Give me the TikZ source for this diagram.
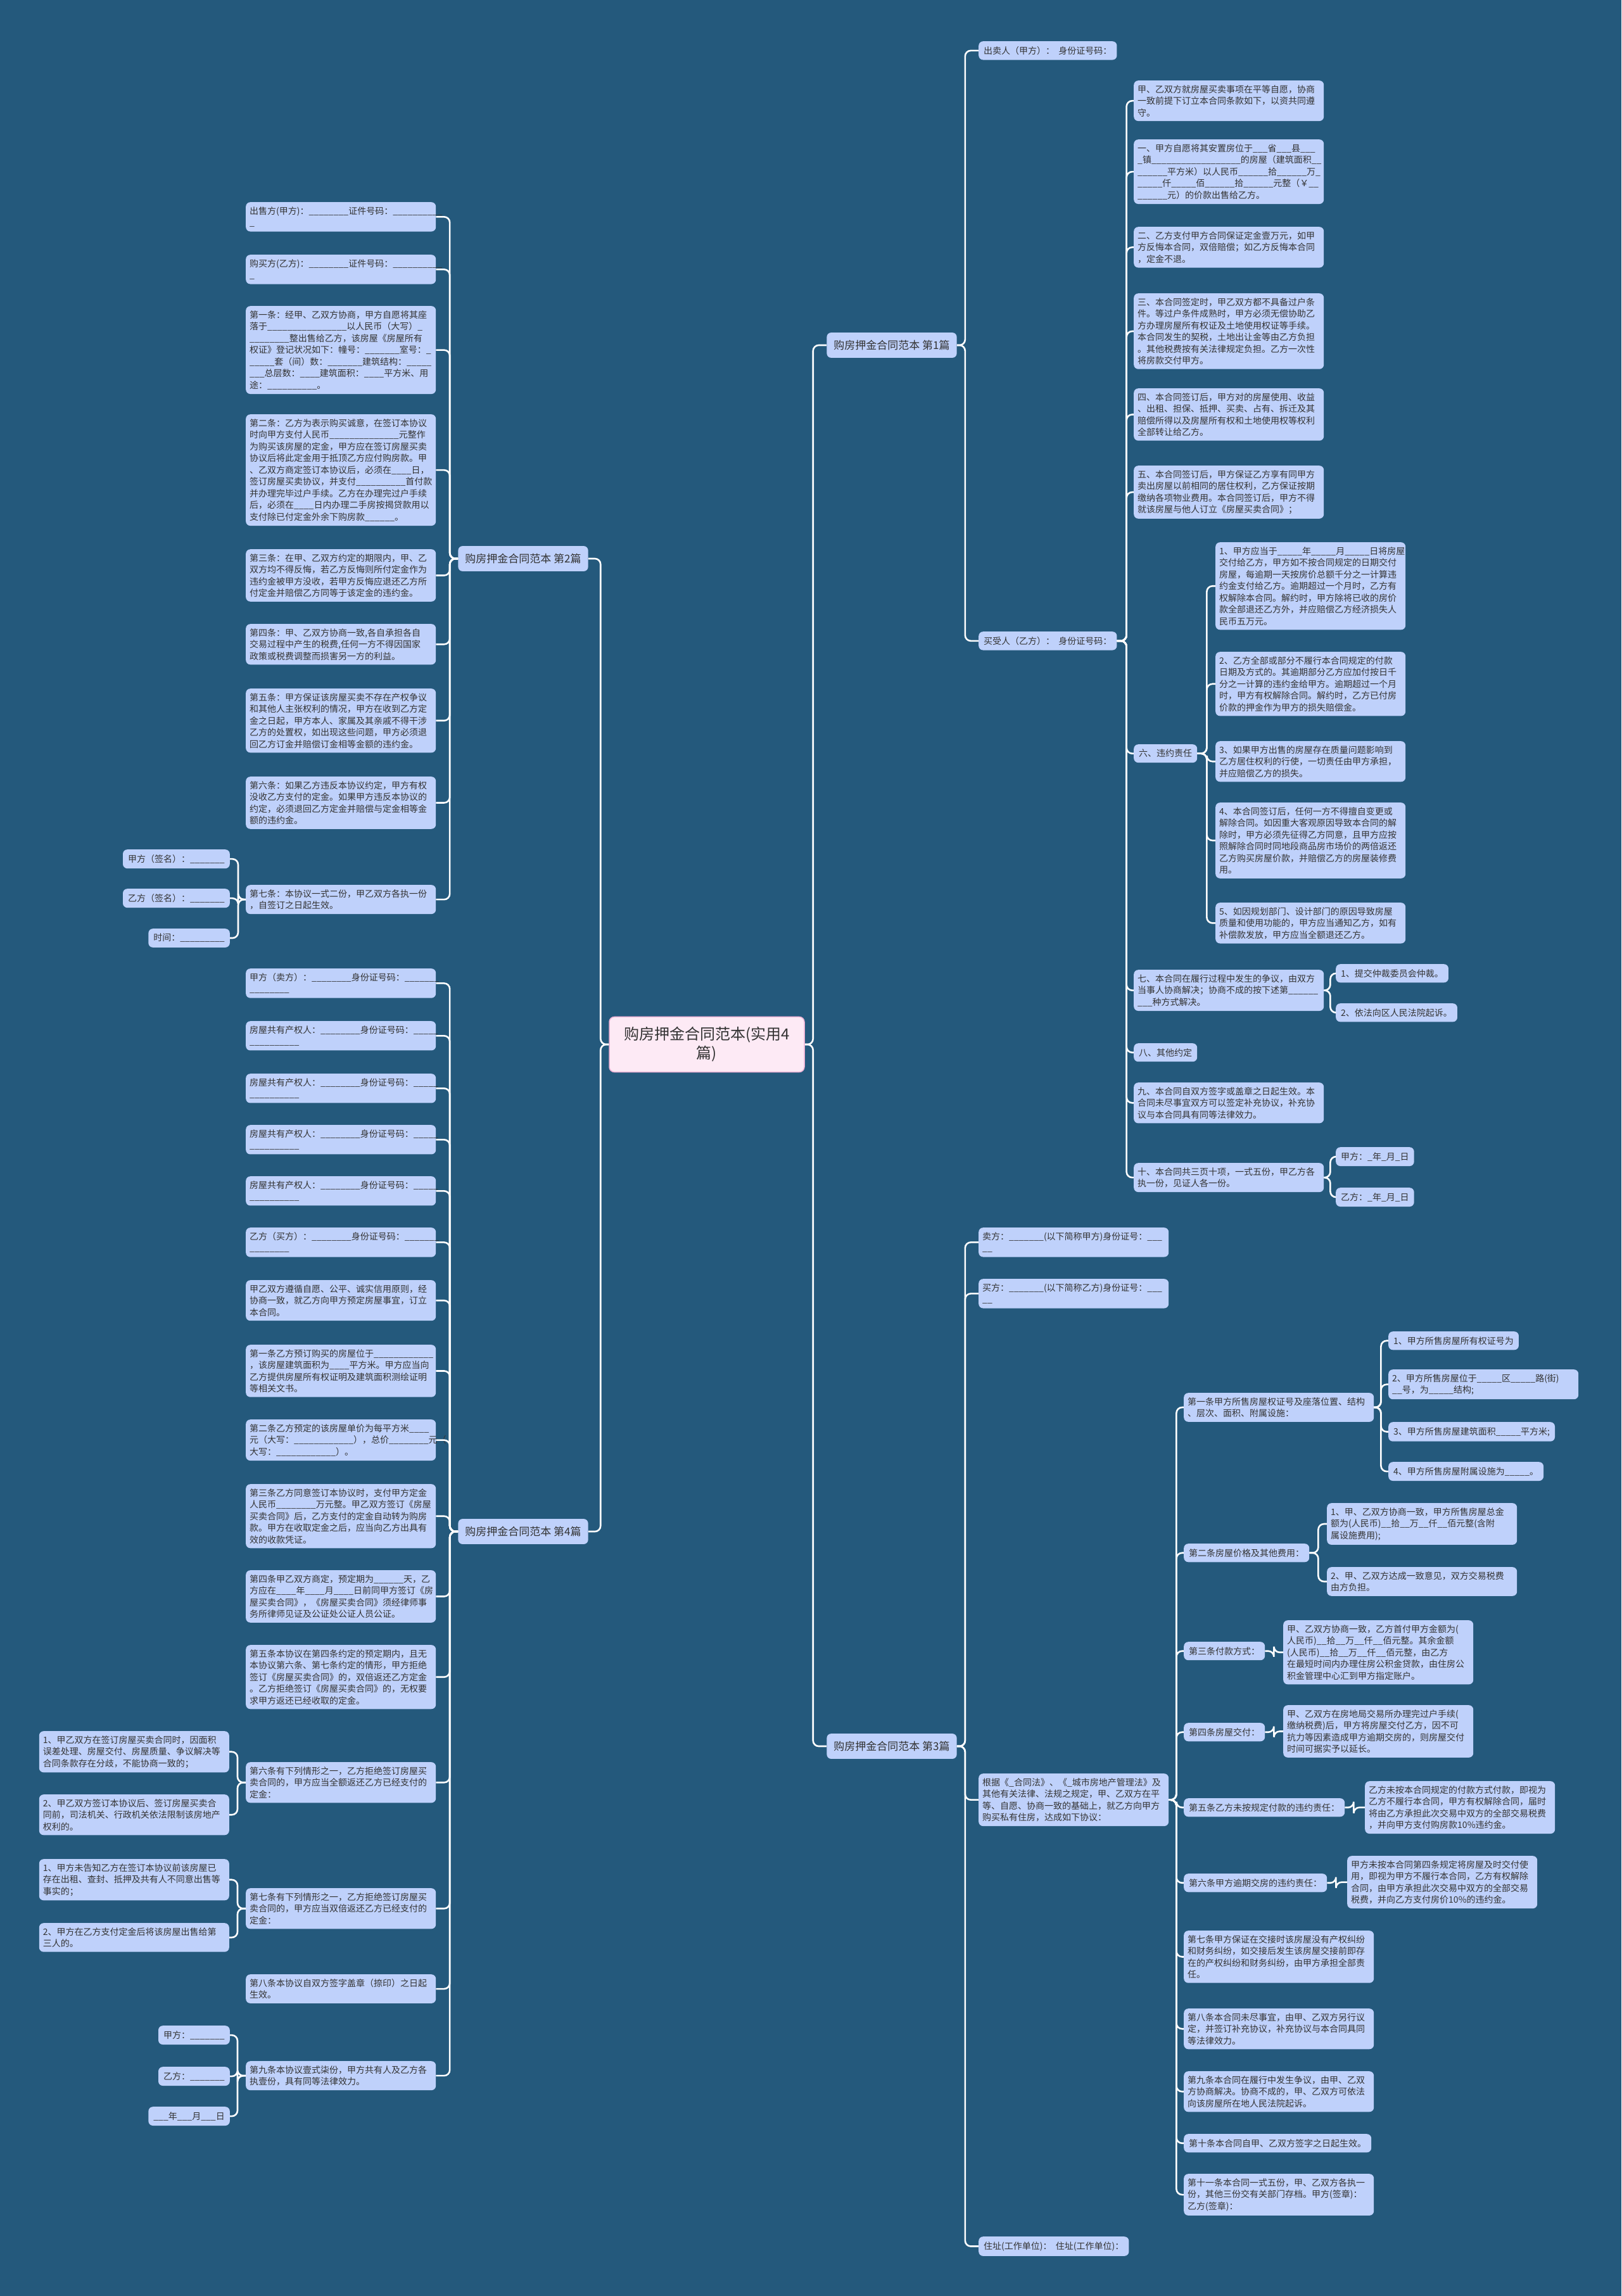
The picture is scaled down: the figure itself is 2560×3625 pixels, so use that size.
\documentclass[tikz,border=0pt]{standalone}
\usepackage{fontspec}
\setmainfont{Noto Sans CJK SC}

\ExplSyntaxOn
\NewDocumentCommand\bk{m}{\prg_replicate:nn{#1}{\_}}
\ExplSyntaxOff

\definecolor{bgblue}{HTML}{24597C}
\definecolor{boxblue}{HTML}{BFD1FB}
\definecolor{inkgray}{HTML}{333333}
\definecolor{rootpink}{HTML}{FDEAF5}
\definecolor{rootline}{HTML}{EDB2D5}

\begin{document}
\begin{tikzpicture}[
    x=1pt, y=-1pt,
    link/.style={draw=white, line width=2.6pt, rounded corners=9pt},
    rootbox/.style={
        fill=rootpink, draw=rootline, line width=1.5pt, rounded corners=8pt,
        text=inkgray, font=\fontsize{24}{30}\selectfont,
        text width=280pt, align=center, inner xsep=14pt, inner ysep=16pt,
    },
    partbox/.style={
        fill=boxblue, rounded corners=7pt, text=inkgray,
        font=\fontsize{17}{21}\selectfont, inner xsep=11pt, inner ysep=12pt,
    },
    itembox/.style={
        fill=boxblue, rounded corners=7pt, text=inkgray,
        font=\fontsize{14}{18.5}\selectfont,
        text width=288pt, align=left, inner xsep=6pt, inner ysep=7pt,
        anchor=north west,
    },
    tagbox/.style={
        fill=boxblue, rounded corners=7pt, text=inkgray,
        font=\fontsize{14}{18.5}\selectfont, inner xsep=8pt, inner ysep=8pt,
        anchor=north west,
    },
]

\fill[bgblue] (0,0) rectangle (2560,3625);

% ── Root and the four parts ─────────────────────────────────
\node[rootbox] (root) at (1116,1649) {购房押金合同范本(实用4\\篇)};
\node[partbox] (part1) at (1408,545) {购房押金合同范本 第1篇};
\node[partbox] (part2) at (826,882) {购房押金合同范本 第2篇};
\node[partbox] (part3) at (1408,2757) {购房押金合同范本 第3篇};
\node[partbox] (part4) at (826,2418) {购房押金合同范本 第4篇};

% ── Part 1 ──────────────────────────────────────────────────
\node[tagbox] (sell1) at (1545,65) {出卖人（甲方）：\ \ 身份证号码：};
\node[tagbox] (buy1) at (1545,997) {买受人（乙方）：\ \ 身份证号码：};

\node[itembox] (c1) at (1790,127) {甲、乙双方就房屋买卖事项在平等自愿，协商\\一致前提下订立本合同条款如下，以资共同遵\\守。};
\node[itembox] (c2) at (1790,220) {一、甲方自愿将其安置房位于\bk{3}省\bk{3}县\bk{3}\\\_镇\bk{18}的房屋（建筑面积\bk{2}\\\bk{6}平方米）以人民币\bk{6}拾\bk{6}万\_\\\bk{5}仟\bk{5}佰\bk{6}拾\bk{6}元整（￥\bk{2}\\\bk{6}元）的价款出售给乙方。};
\node[itembox] (c3) at (1790,358) {二、乙方支付甲方合同保证定金壹万元，如甲\\方反悔本合同，双倍赔偿；如乙方反悔本合同\\，定金不退。};
\node[itembox] (c4) at (1790,463) {三、本合同签定时，甲乙双方都不具备过户条\\件。等过户条件成熟时，甲方必须无偿协助乙\\方办理房屋所有权证及土地使用权证等手续。\\本合同发生的契税，土地出让金等由乙方负担\\。其他税费按有关法律规定负担。乙方一次性\\将房款交付甲方。};
\node[itembox] (c5) at (1790,613) {四、本合同签订后，甲方对的房屋使用、收益\\、出租、担保、抵押、买卖、占有、拆迁及其\\赔偿所得以及房屋所有权和土地使用权等权利\\全部转让给乙方。};
\node[itembox] (c6) at (1790,735) {五、本合同签订后，甲方保证乙方享有同甲方\\卖出房屋以前相同的居住权利，乙方保证按期\\缴纳各项物业费用。本合同签订后，甲方不得\\就该房屋与他人订立《房屋买卖合同》；};
\node[tagbox] (c7) at (1790,1175) {六、违约责任};
\node[itembox] (c8) at (1790,1531) {七、本合同在履行过程中发生的争议，由双方\\当事人协商解决；协商不成的按下述第\bk{6}\\\bk{3}种方式解决。};
\node[tagbox] (c9) at (1790,1647) {八、其他约定};
\node[itembox] (c10) at (1790,1709) {九、本合同自双方签字或盖章之日起生效。本\\合同未尽事宜双方可以签定补充协议，补充协\\议与本合同具有同等法律效力。};
\node[itembox] (c11) at (1790,1836) {十、本合同共三页十项，一式五份，甲乙方各\\执一份，见证人各一份。};

% breach clauses
\node[itembox] (w1) at (1919,856) {1、甲方应当于\bk{5}年\bk{5}月\bk{5}日将房屋\\交付给乙方，甲方如不按合同规定的日期交付\\房屋，每逾期一天按房价总额千分之一计算违\\约金支付给乙方。逾期超过一个月时，乙方有\\权解除本合同。解约时，甲方除将已收的房价\\款全部退还乙方外，并应赔偿乙方经济损失人\\民币五万元。};
\node[itembox] (w2) at (1919,1029) {2、乙方全部或部分不履行本合同规定的付款\\日期及方式的。其逾期部分乙方应加付按日千\\分之一计算的违约金给甲方。逾期超过一个月\\时，甲方有权解除合同。解约时，乙方已付房\\价款的押金作为甲方的损失赔偿金。};
\node[itembox] (w3) at (1919,1170) {3、如果甲方出售的房屋存在质量问题影响到\\乙方居住权利的行使，一切责任由甲方承担，\\并应赔偿乙方的损失。};
\node[itembox] (w4) at (1919,1267) {4、本合同签订后，任何一方不得擅自变更或\\解除合同。如因重大客观原因导致本合同的解\\除时，甲方必须先征得乙方同意，且甲方应按\\照解除合同时同地段商品房市场价的两倍返还\\乙方购买房屋价款，并赔偿乙方的房屋装修费\\用。};
\node[itembox] (w5) at (1919,1425) {5、如因规划部门、设计部门的原因导致房屋\\质量和使用功能的，甲方应当通知乙方，如有\\补偿款发放，甲方应当全额退还乙方。};

\node[tagbox] (r1) at (2109,1522) {1、提交仲裁委员会仲裁。};
\node[tagbox] (r2) at (2109,1584) {2、依法向区人民法院起诉。};
\node[tagbox] (s1) at (2109,1811) {甲方：\_年\_月\_日};
\node[tagbox] (s2) at (2109,1875) {乙方：\_年\_月\_日};

% ── Part 2 ──────────────────────────────────────────────────
\node[itembox] (d1) at (388,319) {出售方(甲方)：\bk{8}证件号码：\bk{10}\\\_};
\node[itembox] (d2) at (388,402) {购买方(乙方)：\bk{8}证件号码：\bk{10}\\\_};
\node[itembox] (d3) at (388,483) {第一条：经甲、乙双方协商，甲方自愿将其座\\落于\bk{16}以人民币（大写）\_\\\bk{8}整出售给乙方，该房屋《房屋所有\\权证》登记状况如下：幢号：\bk{7}室号：\_\\\bk{5}套（间）数：\bk{7}建筑结构：\bk{5}\\\bk{3}总层数：\bk{4}建筑面积：\bk{4}平方米、用\\途：\bk{10}。};
\node[itembox] (d4) at (388,654) {第二条：乙方为表示购买诚意，在签订本协议\\时向甲方支付人民币\bk{14}元整作\\为购买该房屋的定金，甲方应在签订房屋买卖\\协议后将此定金用于抵顶乙方应付购房款。甲\\、乙双方商定签订本协议后，必须在\bk{4}日，\\签订房屋买卖协议，并支付\bk{10}首付款\\并办理完毕过户手续。乙方在办理完过户手续\\后，必须在\bk{4}日内办理二手房按揭贷款用以\\支付除已付定金外余下购房款\bk{6}。};
\node[itembox] (d5) at (388,867) {第三条：在甲、乙双方约定的期限内，甲、乙\\双方均不得反悔，若乙方反悔则所付定金作为\\违约金被甲方没收，若甲方反悔应退还乙方所\\付定金并赔偿乙方同等于该定金的违约金。};
\node[itembox] (d6) at (388,985) {第四条：甲、乙双方协商一致,各自承担各自\\交易过程中产生的税费,任何一方不得因国家\\政策或税费调整而损害另一方的利益。};
\node[itembox] (d7) at (388,1087) {第五条：甲方保证该房屋买卖不存在产权争议\\和其他人主张权利的情况，甲方在收到乙方定\\金之日起，甲方本人、家属及其亲戚不得干涉\\乙方的处置权，如出现这些问题，甲方必须退\\回乙方订金并赔偿订金相等金额的违约金。};
\node[itembox] (d8) at (388,1226) {第六条：如果乙方违反本协议约定，甲方有权\\没收乙方支付的定金。如果甲方违反本协议的\\约定，必须退回乙方定金并赔偿与定金相等金\\额的违约金。};
\node[itembox] (d9) at (388,1397) {第七条：本协议一式二份，甲乙双方各执一份\\，自签订之日起生效。};

\node[tagbox, anchor=north east] (g1) at (363,1341) {甲方（签名）：\bk{7}};
\node[tagbox, anchor=north east] (g2) at (363,1403) {乙方（签名）：\bk{7}};
\node[tagbox, anchor=north east] (g3) at (363,1466) {时间：\bk{9}};

% ── Part 3 ──────────────────────────────────────────────────
\node[itembox] (sell3) at (1545,1938) {卖方：\bk{7}(以下简称甲方)身份证号：\bk{3}\\\bk{2}};
\node[itembox] (buy3) at (1545,2019) {买方：\bk{7}(以下简称乙方)身份证号：\bk{3}\\\bk{2}};
\node[itembox] (basis) at (1545,2800) {根据《\_合同法》、《\_城市房地产管理法》及\\其他有关法律、法规之规定，甲、乙双方在平\\等、自愿、协商一致的基础上，就乙方向甲方\\购买私有住房，达成如下协议：};
\node[tagbox] (addr) at (1545,3531) {住址(工作单位)：\ \ 住址(工作单位)：};

\node[itembox] (t1) at (1869,2199) {第一条甲方所售房屋权证号及座落位置、结构\\、层次、面积、附属设施：};
\node[tagbox] (t2) at (1869,2437) {第二条房屋价格及其他费用：};
\node[tagbox] (t3) at (1869,2592) {第三条付款方式：};
\node[tagbox] (t4) at (1869,2720) {第四条房屋交付：};
\node[tagbox] (t5) at (1869,2839) {第五条乙方未按规定付款的违约责任：};
\node[tagbox] (t6) at (1869,2958) {第六条甲方逾期交房的违约责任：};
\node[itembox] (t7) at (1869,3048) {第七条甲方保证在交接时该房屋没有产权纠纷\\和财务纠纷，如交接后发生该房屋交接前即存\\在的产权纠纷和财务纠纷，由甲方承担全部责\\任。};
\node[itembox] (t8) at (1869,3171) {第八条本合同未尽事宜，由甲、乙双方另行议\\定，并签订补充协议，补充协议与本合同具同\\等法律效力。};
\node[itembox] (t9) at (1869,3270) {第九条本合同在履行中发生争议，由甲、乙双\\方协商解决。协商不成的，甲、乙双方可依法\\向该房屋所在地人民法院起诉。};
\node[tagbox] (t10) at (1869,3369) {第十条本合同自甲、乙双方签字之日起生效。};
\node[itembox] (t11) at (1869,3432) {第十一条本合同一式五份，甲、乙双方各执一\\份，其他三份交有关部门存档。甲方(签章)：\\乙方(签章)：};

\node[tagbox] (t1a) at (2192,2102) {1、甲方所售房屋所有权证号为};
\node[itembox] (t1b) at (2192,2162) {2、甲方所售房屋位于\bk{5}区\bk{5}路(街)\\\bk{2}号，为\bk{5}结构;};
\node[tagbox] (t1c) at (2192,2245) {3、甲方所售房屋建筑面积\bk{5}平方米;};
\node[tagbox] (t1d) at (2192,2308) {4、甲方所售房屋附属设施为\bk{5}。};

\node[itembox] (t2a) at (2095,2373) {1、甲、乙双方协商一致，甲方所售房屋总金\\额为(人民币)\bk{2}拾\bk{2}万\bk{2}仟\bk{2}佰元整(含附\\属设施费用);};
\node[itembox] (t2b) at (2095,2474) {2、甲、乙双方达成一致意见，双方交易税费\\由方负担。};
\node[itembox] (t3a) at (2026,2558) {甲、乙双方协商一致，乙方首付甲方金额为(\\人民币)\bk{2}拾\bk{2}万\bk{2}仟\bk{2}佰元整。其余金额\\(人民币)\bk{2}拾\bk{2}万\bk{2}仟\bk{2}佰元整，由乙方\\在最短时间内办理住房公积金贷款，由住房公\\积金管理中心汇到甲方指定账户。};
\node[itembox] (t4a) at (2026,2692) {甲、乙双方在房地局交易所办理完过户手续(\\缴纳税费)后，甲方将房屋交付乙方，因不可\\抗力等因素造成甲方逾期交房的，则房屋交付\\时间可据实予以延长。};
\node[itembox] (t5a) at (2155,2812) {乙方未按本合同规定的付款方式付款，即视为\\乙方不履行本合同，甲方有权解除合同，届时\\将由乙方承担此次交易中双方的全部交易税费\\，并向甲方支付购房款10\%违约金。};
\node[itembox] (t6a) at (2127,2930) {甲方未按本合同第四条规定将房屋及时交付使\\用，即视为甲方不履行本合同，乙方有权解除\\合同，由甲方承担此次交易中双方的全部交易\\税费，并向乙方支付房价10\%的违约金。};

% ── Part 4 ──────────────────────────────────────────────────
\node[itembox] (e1) at (388,1529) {甲方（卖方）：\bk{8}身份证号码：\bk{7}\\\bk{8}};
\foreach \i/\y in {2/1612, 3/1695, 4/1776, 5/1857} {
    \node[itembox] (e\i) at (388,\y) {房屋共有产权人：\bk{8}身份证号码：\bk{5}\\\bk{10}};
}
\node[itembox] (e6) at (388,1938) {乙方（买方）：\bk{8}身份证号码：\bk{7}\\\bk{8}};
\node[itembox] (e7) at (388,2021) {甲乙双方遵循自愿、公平、诚实信用原则，经\\协商一致，就乙方向甲方预定房屋事宜，订立\\本合同。};
\node[itembox] (e8) at (388,2123) {第一条乙方预订购买的房屋位于\bk{12}\\，该房屋建筑面积为\bk{4}平方米。甲方应当向\\乙方提供房屋所有权证明及建筑面积测绘证明\\等相关文书。};
\node[itembox] (e9) at (388,2241) {第二条乙方预定的该房屋单价为每平方米\bk{4}\\元（大写：\bk{12}），总价\bk{8}元（\\大写：\bk{12}）。};
\node[itembox] (e10) at (388,2343) {第三条乙方同意签订本协议时，支付甲方定金\\人民币\bk{8}万元整。甲乙双方签订《房屋\\买卖合同》后，乙方支付的定金自动转为购房\\款。甲方在收取定金之后，应当向乙方出具有\\效的收款凭证。};
\node[itembox] (e11) at (388,2479) {第四条甲乙双方商定，预定期为\bk{6}天，乙\\方应在\bk{4}年\bk{4}月\bk{4}日前同甲方签订《房\\屋买卖合同》，《房屋买卖合同》须经律师事\\务所律师见证及公证处公证人员公证。};
\node[itembox] (e12) at (388,2597) {第五条本协议在第四条约定的预定期内，且无\\本协议第六条、第七条约定的情形，甲方拒绝\\签订《房屋买卖合同》的，双倍返还乙方定金\\。乙方拒绝签订《房屋买卖合同》的，无权要\\求甲方返还已经收取的定金。};
\node[itembox] (e13) at (388,2782) {第六条有下列情形之一，乙方拒绝签订房屋买\\卖合同的，甲方应当全额返还乙方已经支付的\\定金：};
\node[itembox] (e14) at (388,2981) {第七条有下列情形之一，乙方拒绝签订房屋买\\卖合同的，甲方应当双倍返还乙方已经支付的\\定金：};
\node[itembox] (e15) at (388,3117) {第八条本协议自双方签字盖章（捺印）之日起\\生效。};
\node[itembox] (e16) at (388,3254) {第九条本协议壹式柒份，甲方共有人及乙方各\\执壹份，具有同等法律效力。};

\node[itembox, anchor=north east] (e13a) at (362,2733) {1、甲乙双方在签订房屋买卖合同时，因面积\\误差处理、房屋交付、房屋质量、争议解决等\\合同条款存在分歧，不能协商一致的；};
\node[itembox, anchor=north east] (e13b) at (362,2833) {2、甲乙双方签订本协议后、签订房屋买卖合\\同前，司法机关、行政机关依法限制该房地产\\权利的。};
\node[itembox, anchor=north east] (e14a) at (362,2935) {1、甲方未告知乙方在签订本协议前该房屋已\\存在出租、查封、抵押及共有人不同意出售等\\事实的；};
\node[itembox, anchor=north east] (e14b) at (362,3036) {2、甲方在乙方支付定金后将该房屋出售给第\\三人的。};
\node[tagbox, anchor=north east] (e16a) at (363,3198) {甲方：\bk{7}};
\node[tagbox, anchor=north east] (e16b) at (363,3263) {乙方：\bk{7}};
\node[tagbox, anchor=north east] (e16c) at (363,3326) {\bk{3}年\bk{3}月\bk{3}日};

% ── Connectors ──────────────────────────────────────────────
\foreach \p in {part1, part3}
    \draw[link] (root.east) -- ++(13,0) |- (\p.west);
\foreach \p in {part2, part4}
    \draw[link] (root.west) -- ++(-13,0) |- (\p.east);

% part 1
\foreach \n in {sell1, buy1}
    \draw[link] (part1.east) -- ++(13,0) |- (\n.west);
\foreach \i in {1,...,11}
    \draw[link] (buy1.east) -- ++(15,0) |- (c\i.west);
\foreach \i in {1,...,5}
    \draw[link] (c7.east) -- ++(15,0) |- (w\i.west);
\foreach \n in {r1, r2}
    \draw[link] (c8.east) -- ++(10,0) |- (\n.west);
\foreach \n in {s1, s2}
    \draw[link] (c11.east) -- ++(10,0) |- (\n.west);

% part 2
\foreach \i in {1,...,9}
    \draw[link] (part2.west) -- ++(-13,0) |- (d\i.east);
\foreach \i in {1,...,3}
    \draw[link] (d9.west) -- ++(-12,0) |- (g\i.east);

% part 3
\foreach \n in {sell3, buy3, basis, addr}
    \draw[link] (part3.east) -- ++(13,0) |- (\n.west);
\foreach \i in {1,...,11}
    \draw[link] (basis.east) -- ++(12,0) |- (t\i.west);
\foreach \n in {t1a, t1b, t1c, t1d}
    \draw[link] (t1.east) -- ++(11,0) |- (\n.west);
\foreach \n in {t2a, t2b}
    \draw[link] (t2.east) -- ++(14,0) |- (\n.west);
\foreach \i in {3,...,6}
    \draw[link] (t\i.east) -- ++(14,0) |- (t\i a.west);

% part 4
\foreach \i in {1,...,16}
    \draw[link] (part4.west) -- ++(-13,0) |- (e\i.east);
\foreach \n in {e13a, e13b}
    \draw[link] (e13.west) -- ++(-13,0) |- (\n.east);
\foreach \n in {e14a, e14b}
    \draw[link] (e14.west) -- ++(-13,0) |- (\n.east);
\foreach \n in {e16a, e16b, e16c}
    \draw[link] (e16.west) -- ++(-13,0) |- (\n.east);

\end{tikzpicture}
\end{document}
